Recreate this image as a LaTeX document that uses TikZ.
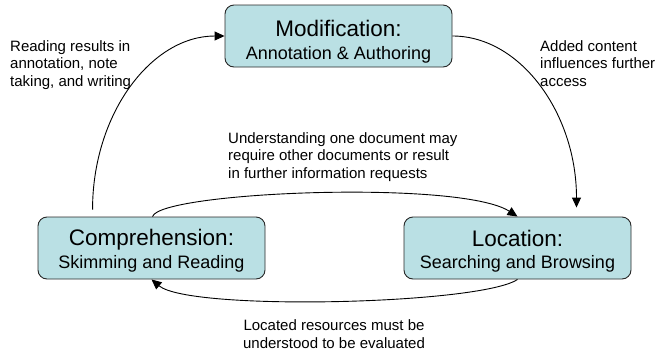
\documentclass[tikz,border=0pt]{standalone}
\usepackage{fontspec}
\setmainfont{Liberation Sans}
\usetikzlibrary{arrows.meta,calc}
\definecolor{boxfill}{RGB}{186,224,228}
\definecolor{boxline}{RGB}{40,40,40}
\begin{document}
\begin{tikzpicture}[x=1pt,y=-1pt,
  box/.style={draw=boxline, line width=0.9pt, fill=boxfill, rounded corners=9pt,
    minimum width=227pt, minimum height=62pt, inner sep=0pt},
  title/.style={font=\fontsize{22.5}{26}\selectfont, anchor=base, inner sep=0pt},
  sub/.style={font=\fontsize{18}{21}\selectfont, anchor=base, inner sep=0pt},
  lbl/.style={font=\fontsize{15}{17.5}\selectfont, inner sep=0pt},
  conn/.style={line width=0.9pt, -{Triangle[length=10pt,width=9pt]}}]
\useasboundingbox (0,0) rectangle (657,354);
% boxes
\node[box] (mod) at (338.5,36) {};
\node[box] (comp) at (151.5,248) {};
\node[box] (loc) at (517.5,248) {};
% box texts
\node[title] (modt) at ([yshift=-32pt]mod.north) {Modification:};
\node[sub] (mods) at ([yshift=-55pt]mod.north) {Annotation \& Authoring};
\node[title] (compt) at ([yshift=-29pt]comp.north) {Comprehension:};
\node[sub] (comps) at ([yshift=-52pt]comp.north) {Skimming and Reading};
\node[title] (loct) at ([yshift=-30pt]loc.north) {Location:};
\node[sub] (locs) at ([yshift=-52pt]loc.north) {Searching and Browsing};
% connectors
\draw[conn] ([xshift=55pt,yshift=7pt]comp.north west) .. controls +(0,-96) and +(-73,0) .. (mod.west);
\draw[conn] (mod.east) .. controls +(68,0) and +(0,-94) .. ([xshift=59pt,yshift=9pt]loc.north);
\draw[conn] ([xshift=1pt]comp.north) .. controls +(8,-25) and +(-57,-37) .. (loc.north);
\draw[conn] (loc.south) .. controls +(-37,25) and +(38,32) .. (comp.south);
% labels (anchor base = baseline of the last line)
\node[lbl, align=left, anchor=base west] (l1) at (10,86) {Reading results in\\annotation, note\\taking, and writing};
\node[lbl, align=left, anchor=base west] (l2) at (540,86) {Added content\\influences further\\access};
\node[lbl, align=left, anchor=base west] (l3) at (228,178) {Understanding one document may\\require other documents or result\\in further information requests};
\node[lbl, align=center, anchor=base] (l4) at (334,348) {Located resources must be\\understood to be evaluated};
\end{tikzpicture}
\end{document}
